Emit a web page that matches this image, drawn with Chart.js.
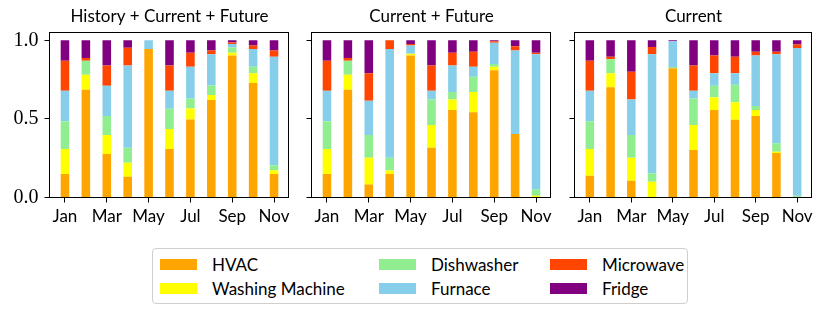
<!DOCTYPE html>
<html>
<head>
<meta charset="utf-8">
<script src="https://cdn.jsdelivr.net/npm/chart.js@4/dist/chart.umd.min.js"></script>
<style>
  html, body { margin: 0; padding: 0; background: #fff; }
  body { width: 830px; height: 316px; position: relative; overflow: hidden; font-family: Lato, "DejaVu Sans", sans-serif; }
  canvas { position: absolute; top: 0; }
  #legend { position: absolute; left: 152px; top: 248px; width: 534px; height: 54px; border: 1px solid #cfcfcf; border-radius: 4px; box-sizing: content-box; }
  .item { position: absolute; height: 14px; display: flex; align-items: center; font-size: 17px; color: #000; white-space: nowrap; }
  .sw { width: 37px; height: 11px; margin-right: 15px; flex: none; }
</style>
</head>
<body>
<canvas id="c1"></canvas>
<canvas id="c2"></canvas>
<canvas id="c3"></canvas>
<div id="legend"></div>
<script>
// ---------- data ----------
const months = ["Jan","Feb","Mar","Apr","May","Jun","Jul","Aug","Sep","Oct","Nov"];
const seriesNames = ["HVAC","Washing Machine","Dishwasher","Furnace","Microwave","Fridge"];
const seriesColors = ["#FFA500","#FFFF00","#90EE90","#87CEEB","#FF4500","#800080"];
const panelTitles = ["History + Current + Future","Current + Future","Current"];
const yTickValues = [0, 0.5, 1.0];
const xTickIndices = [0, 2, 4, 6, 8, 10];

// Panel 1: History + Current + Future
const hvacHCF    = [0.149,0.685,0.277,0.132,0.945,0.309,0.496,0.621,0.904,0.728,0.149];
const washHCF    = [0.160,0.096,0.121,0.089,0.000,0.127,0.070,0.032,0.017,0.063,0.025];
const dishHCF    = [0.176,0.089,0.121,0.096,0.000,0.128,0.064,0.060,0.034,0.041,0.032];
const furnaceHCF = [0.194,0.000,0.192,0.523,0.055,0.115,0.202,0.198,0.022,0.113,0.690];
const microHCF   = [0.191,0.017,0.129,0.113,0.000,0.161,0.089,0.025,0.010,0.023,0.040];
const fridgeHCF  = [0.130,0.113,0.160,0.047,0.000,0.160,0.079,0.064,0.013,0.032,0.064];

// Panel 2: Current + Future
const hvacCF    = [0.149,0.685,0.083,0.149,0.904,0.317,0.557,0.543,0.809,0.404,0.000];
const washCF    = [0.160,0.096,0.170,0.023,0.011,0.145,0.066,0.129,0.023,0.000,0.011];
const dishCF    = [0.176,0.089,0.145,0.081,0.000,0.161,0.049,0.096,0.017,0.000,0.040];
const furnaceCF = [0.194,0.000,0.217,0.692,0.053,0.056,0.168,0.064,0.136,0.532,0.860];
const microCF   = [0.191,0.017,0.176,0.055,0.009,0.161,0.081,0.096,0.009,0.026,0.010];
const fridgeCF  = [0.130,0.113,0.209,0.000,0.023,0.160,0.079,0.072,0.006,0.038,0.079];

// Panel 3: Current
const hvacC    = [0.138,0.702,0.106,0.000,0.823,0.302,0.557,0.494,0.519,0.283,0.000];
const washC    = [0.171,0.089,0.147,0.100,0.000,0.160,0.081,0.112,0.038,0.008,0.000];
const dishC    = [0.176,0.088,0.145,0.055,0.007,0.168,0.073,0.111,0.026,0.054,0.011];
const furnaceC = [0.194,0.000,0.225,0.756,0.164,0.049,0.080,0.074,0.321,0.566,0.940];
const microC   = [0.191,0.017,0.177,0.046,0.000,0.161,0.113,0.105,0.024,0.017,0.023];
const fridgeC  = [0.130,0.104,0.200,0.043,0.006,0.160,0.096,0.104,0.072,0.072,0.026];

const panelSeries = [
  [hvacHCF, washHCF, dishHCF, furnaceHCF, microHCF, fridgeHCF],
  [hvacCF, washCF, dishCF, furnaceCF, microCF, fridgeCF],
  [hvacC, washC, dishC, furnaceC, microC, fridgeC]
];

// ---------- layout ----------
const H = 240;
const AREA_TOP = 32.5;
const AREA_BOTTOM = 197.5;
const panels = [
  { id: "c1", canvasLeft: 0,   yWidth: 49.5, areaRight: 289.5, showY: true },
  { id: "c2", canvasLeft: 291, yWidth: 20.5, areaRight: 551.5, showY: false },
  { id: "c3", canvasLeft: 554, yWidth: 20.5, areaRight: 812.5, showY: false }
];
const PAD_R = 10;

const framePlugin = {
  id: "frame",
  afterDraw(chart, args, opts) {
    const a = chart.chartArea, ctx = chart.ctx;
    ctx.save();
    ctx.strokeStyle = "#000";
    ctx.lineWidth = 1;
    const l = Math.floor(a.left) + 0.5, r = Math.floor(a.right) - 0.5;
    const t = Math.floor(a.top) + 0.5, b = Math.floor(a.bottom) + 0.5;
    ctx.strokeRect(l, t, r - l, b - t);
    // panel title, centred over the plot area
    ctx.fillStyle = "#000";
    ctx.font = "17px Lato, 'DejaVu Sans', sans-serif";
    ctx.textAlign = "center";
    ctx.textBaseline = "middle";
    ctx.fillText(opts.text, (a.left + a.right) / 2, 17);
    ctx.restore();
  }
};

panels.forEach((p, k) => {
  const cv = document.getElementById(p.id);
  const w = Math.ceil(p.areaRight - p.canvasLeft + PAD_R);
  cv.style.left = p.canvasLeft + "px";
  cv.style.width = w + "px";
  cv.style.height = H + "px";
  cv.width = w; cv.height = H;

  const datasets = panelSeries[k].map((vals, i) => ({
    label: seriesNames[i],
    data: vals.map((v, j) => ({ x: j, y: v })),
    backgroundColor: seriesColors[i],
    borderWidth: 0,
    barPercentage: 0.41,
    categoryPercentage: 1.0
  }));

  new Chart(cv, {
    type: "bar",
    data: { datasets },
    options: {
      responsive: false,
      animation: false,
      devicePixelRatio: 1,
      layout: { padding: { left: 0, right: w - (p.areaRight - p.canvasLeft), top: AREA_TOP, bottom: 0 } },
      plugins: {
        legend: { display: false },
        tooltip: { enabled: false },
        title: { display: false },
        frame: { text: panelTitles[k] }
      },
      scales: {
        x: {
          type: "linear",
          stacked: true,
          offset: false,
          min: -0.74,
          max: 10.74,
          afterBuildTicks: (s) => { s.ticks = xTickIndices.map(v => ({ value: v })); },
          afterFit: (s) => { s.height = H - AREA_BOTTOM; },
          ticks: {
            color: "#000",
            padding: 4,
            maxRotation: 0,
            autoSkip: false,
            font: { family: "Lato, 'DejaVu Sans', sans-serif", size: 17 },
            callback: (v) => months[v]
          },
          grid: { display: true, offset: false, drawOnChartArea: false, drawTicks: true, tickLength: 5, color: "#000", lineWidth: 1 },
          border: { display: false }
        },
        y: {
          stacked: true,
          min: 0,
          max: 1.05,
          afterBuildTicks: (s) => { s.ticks = yTickValues.map(v => ({ value: v })); },
          afterFit: (s) => { s.width = p.yWidth; },
          ticks: {
            color: "#000",
            padding: 6,
            font: { family: "'Liberation Serif', 'DejaVu Serif', serif", size: 20 },
            callback: (v) => p.showY ? Number(v).toFixed(1) : ""
          },
          grid: { display: true, drawOnChartArea: false, drawTicks: true, tickLength: 5, color: "#000", lineWidth: 1 },
          border: { display: false }
        }
      }
    },
    plugins: [framePlugin]
  });
});

// ---------- legend (HTML) ----------
const legend = document.getElementById("legend");
const legendCols = [7, 226, 397];
const legendRows = [8.5, 32.5];
seriesNames.forEach((name, i) => {
  const col = Math.floor(i / 2), row = i % 2;
  const d = document.createElement("div");
  d.className = "item";
  d.style.left = legendCols[col] + "px";
  d.style.top = legendRows[row] + "px";
  const sw = document.createElement("span");
  sw.className = "sw";
  sw.style.background = seriesColors[i];
  const t = document.createElement("span");
  t.textContent = name;
  d.appendChild(sw); d.appendChild(t);
  legend.appendChild(d);
});
</script>
</body>
</html>
